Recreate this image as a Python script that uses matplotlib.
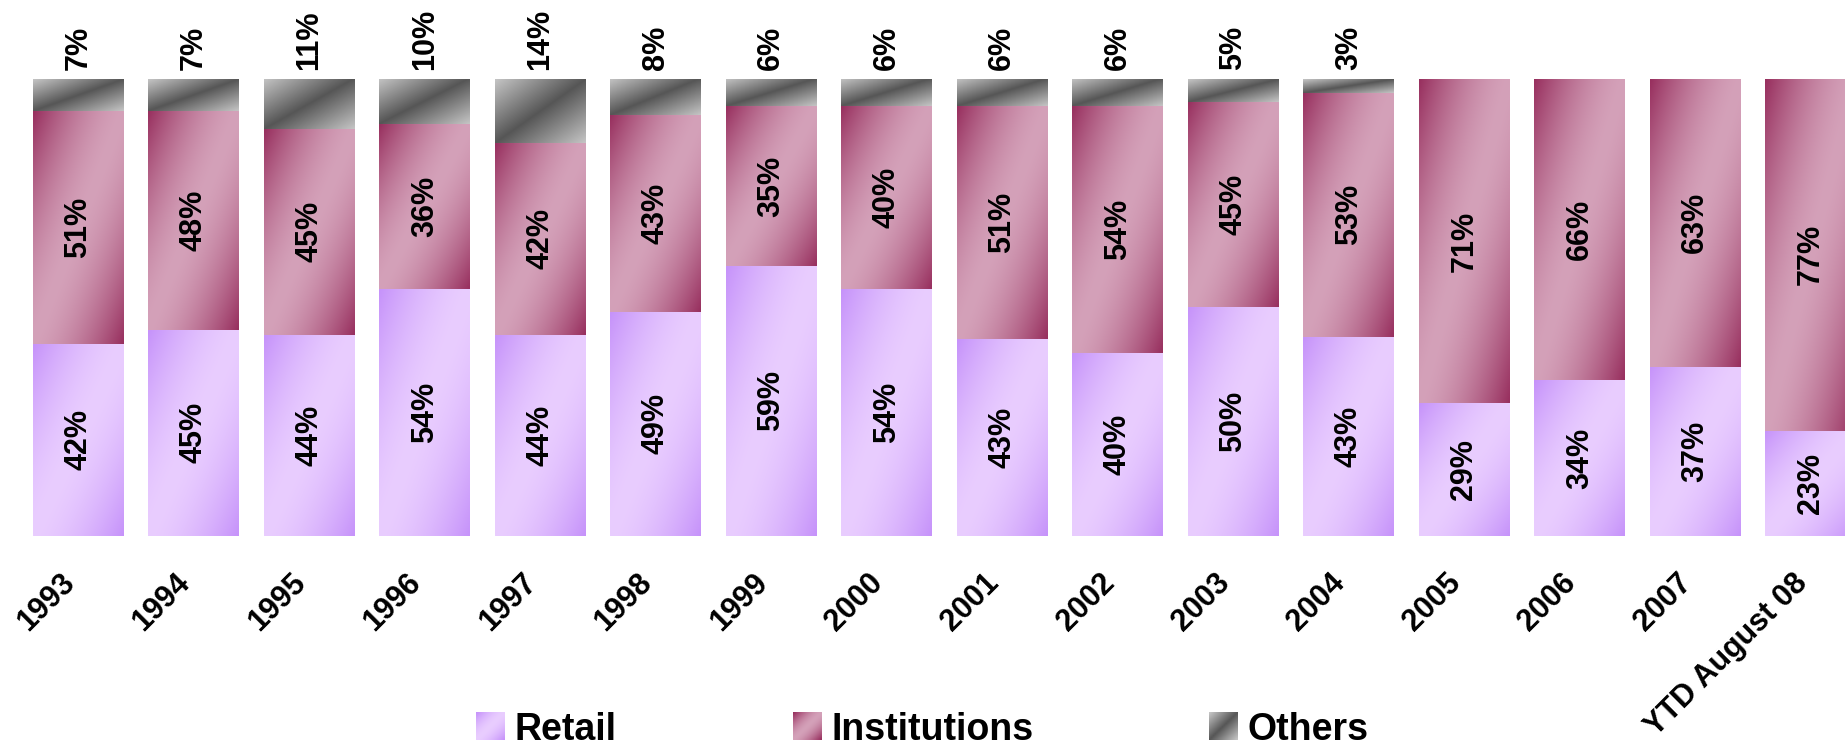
import numpy as np
import matplotlib.pyplot as plt
from matplotlib.patches import Patch
from matplotlib.colors import to_rgb
from matplotlib.legend_handler import HandlerBase
from matplotlib.image import BboxImage
from matplotlib.transforms import Bbox, TransformedBbox, ScaledTranslation

plt.rcParams['font.family'] = ['Liberation Sans', 'DejaVu Sans']

years = ['1993', '1994', '1995', '1996', '1997', '1998', '1999', '2000',
         '2001', '2002', '2003', '2004', '2005', '2006', '2007', 'YTD August 08']
retail = [42, 45, 44, 54, 44, 49, 59, 54, 43, 40, 50, 43, 29, 34, 37, 23]
institutions = [51, 48, 45, 36, 42, 43, 35, 40, 51, 54, 45, 53, 71, 66, 63, 77]
others = [7, 7, 11, 10, 14, 8, 6, 6, 6, 6, 5, 3, 0, 0, 0, 0]

# gradient styles: (corner colour, centre colour, exponent)
styles = {
    'Retail': ('#c693fa', '#e9cdff', 1.6),
    'Institutions': ('#98305f', '#d4a1b9', 1.6),
    'Others': ('#c4c4c4', '#565656', 1.0),
}


def gradient(corner, centre, p, n=64, m=64):
    u = np.linspace(0, 1, m)[None, :]
    v = np.linspace(0, 1, n)[:, None]
    s = np.abs((u + v) - 1.0) ** p
    c0 = np.array(to_rgb(centre))
    c1 = np.array(to_rgb(corner))
    return c0 + (c1 - c0) * s[..., None]


class GradientHandler(HandlerBase):
    def __init__(self, img):
        super().__init__()
        self.img = img

    def create_artists(self, legend, orig_handle, xdescent, ydescent,
                       width, height, fontsize, trans):
        bb = Bbox.from_bounds(-xdescent, -ydescent, width, height)
        im = BboxImage(TransformedBbox(bb, trans), interpolation='bilinear')
        im.set_data(self.img)
        return [im]


r = np.array(retail, float)
i = np.array(institutions, float)
o = np.array(others, float)
tot = r + i + o
r, i, o = r / tot, i / tot, o / tot
x = np.arange(len(years))

fig = plt.figure(figsize=(18.45, 7.47), dpi=100)
ax = fig.add_axes([0, 0.283, 1, 0.6115])

series = [('Retail', r, 0), ('Institutions', i, r), ('Others', o, r + i)]
for name, vals, base in series:
    bars = ax.bar(x, vals, 0.785, bottom=base, color='none', edgecolor='none')
    img = gradient(*styles[name])
    for p in bars.patches:
        if p.get_height() <= 0:
            continue
        x0, y0 = p.get_x(), p.get_y()
        ax.imshow(img, extent=[x0, x0 + p.get_width(), y0, y0 + p.get_height()],
                  origin='upper', aspect='auto', interpolation='bilinear', zorder=2)

# value labels
for k in range(len(years)):
    ax.text(x[k], r[k] / 2, f'{retail[k]}%', rotation=90, ha='center', va='center',
            fontsize=22, fontweight='bold', zorder=3)
    ax.text(x[k], r[k] + i[k] / 2, f'{institutions[k]}%', rotation=90, ha='center',
            va='center', fontsize=22, fontweight='bold', zorder=3)
    if others[k] > 0:
        ax.annotate(f'{others[k]}%', (x[k], 1.0), xytext=(0, 6.5),
                    textcoords='offset points', rotation=90, ha='center', va='bottom',
                    fontsize=22, fontweight='bold', annotation_clip=False)

ax.set_xlim(-0.678, 15.296)
ax.set_ylim(0, 1)
ax.set_xticks(x)
ax.set_xticklabels(years, rotation=45, ha='right', va='center', rotation_mode='anchor',
                   fontsize=22, fontweight='bold')
ax.tick_params(axis='x', length=0, pad=31)
shift = ScaledTranslation(-0.08, 0, fig.dpi_scale_trans)
for lbl in ax.get_xticklabels():
    lbl.set_transform(lbl.get_transform() + shift)
ax.set_yticks([])
for sp in ax.spines.values():
    sp.set_visible(False)

handles = [Patch(label=n) for n in styles]
hmap = {h: GradientHandler(gradient(*styles[h.get_label()], n=16, m=16)) for h in handles}
fig.legend(handles=handles, handler_map=hmap, loc='center', bbox_to_anchor=(0.5, 0.023),
           ncol=3, frameon=False, prop={'weight': 'bold', 'size': 27},
           handlelength=0.75, handleheight=0.75, handletextpad=0.27,
           columnspacing=4.7, borderpad=0)

fig.savefig('out.png', dpi=100)
